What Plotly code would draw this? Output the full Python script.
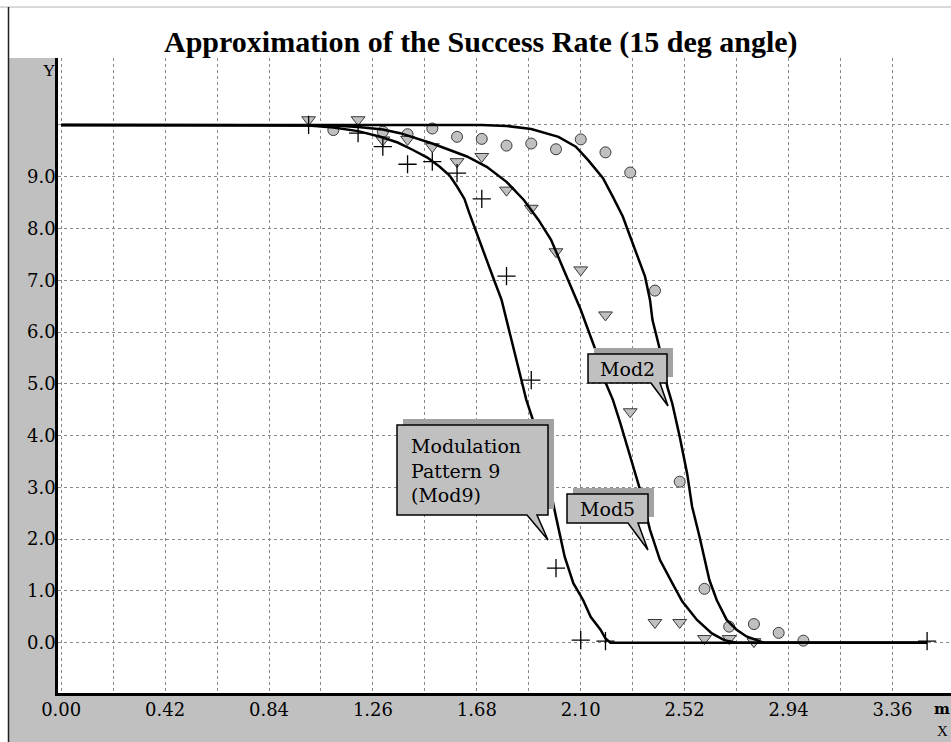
import plotly.graph_objects as go

# ---- measured success rates (markers) ----
x_mod9 = [1.0, 1.2, 1.3, 1.4, 1.5, 1.6, 1.7, 1.8, 1.9, 2.0, 2.1, 2.2, 3.5]
y_mod9 = [10.0, 9.84, 9.58, 9.24, 9.29, 9.07, 8.57, 7.08, 5.07, 1.44, 0.05, 0.03, 0.03]

x_mod5 = [1.0, 1.2, 1.3, 1.4, 1.5, 1.6, 1.7, 1.8, 1.9, 2.0, 2.1, 2.2, 2.3, 2.4, 2.5, 2.6, 2.7, 2.8]
y_mod5 = [10.1, 10.1, 9.71, 9.72, 9.58, 9.29, 9.39, 8.74, 8.39, 7.55, 7.20, 6.33, 4.46, 0.39, 0.39, 0.08, 0.08, 0.02]

x_mod2 = [1.1, 1.3, 1.4, 1.5, 1.6, 1.7, 1.8, 1.9, 2.0, 2.1, 2.2, 2.3, 2.4, 2.5, 2.6, 2.7, 2.8, 2.9, 3.0]
y_mod2 = [9.9, 9.87, 9.82, 9.93, 9.77, 9.73, 9.60, 9.64, 9.53, 9.72, 9.47, 9.08, 6.80, 3.11, 1.04, 0.31, 0.36, 0.19, 0.04]

# ---- approximation curves ----
cx_mod9 = [0.0, 0.90, 1.00, 1.10, 1.20, 1.29, 1.36, 1.42, 1.48, 1.53, 1.57, 1.60, 1.63, 1.65,
           1.67, 1.69, 1.72, 1.75, 1.78, 1.80, 1.82, 1.84, 1.86, 1.88, 1.92, 1.96, 2.00, 2.035,
           2.07, 2.11, 2.14, 2.18, 2.20, 2.22, 3.50]
cy_mod9 = [10.0, 10.0, 9.99, 9.95, 9.88, 9.77, 9.66, 9.52, 9.37, 9.19, 9.02, 8.81, 8.57, 8.29,
           8.04, 7.78, 7.39, 7.00, 6.62, 6.23, 5.85, 5.46, 5.07, 4.69, 4.11, 3.34, 2.43, 1.66,
           1.15, 0.82, 0.50, 0.25, 0.08, 0.0, 0.0]

cx_mod5 = [0.0, 1.00, 1.10, 1.20, 1.30, 1.37, 1.50, 1.64, 1.72, 1.80, 1.87, 1.93, 1.98, 2.02,
           2.06, 2.10, 2.13, 2.16, 2.19, 2.23, 2.26, 2.30, 2.34, 2.38, 2.42, 2.47, 2.51, 2.57,
           2.63, 2.68, 2.73, 3.50]
cy_mod5 = [10.0, 10.0, 9.99, 9.96, 9.91, 9.84, 9.64, 9.39, 9.19, 8.90, 8.55, 8.16, 7.78, 7.33,
           6.88, 6.43, 6.04, 5.65, 5.14, 4.69, 4.24, 3.59, 2.95, 2.18, 1.60, 1.15, 0.80, 0.44,
           0.18, 0.05, 0.0, 0.0]

cx_mod2 = [0.0, 1.70, 1.80, 1.90, 2.01, 2.08, 2.13, 2.19, 2.23, 2.27, 2.29, 2.32, 2.36, 2.38,
           2.39, 2.41, 2.43, 2.45, 2.47, 2.50, 2.53, 2.55, 2.58, 2.62, 2.65, 2.69, 2.73, 2.77,
           2.81, 2.84, 3.50]
cy_mod2 = [10.0, 10.0, 9.98, 9.92, 9.77, 9.58, 9.32, 8.97, 8.61, 8.23, 7.97, 7.58, 7.07, 6.62,
           6.23, 5.85, 5.46, 4.94, 4.62, 3.98, 3.27, 2.63, 2.05, 1.21, 0.82, 0.44, 0.25, 0.12,
           0.05, 0.0, 0.0]

# ---- axis ticks ----
x_tickvals = [round(0.21 * k, 2) for k in range(17)]
x_ticktext = [f"{v:.2f}" if k % 2 == 0 else "" for k, v in enumerate(x_tickvals)]
y_tickvals = list(range(11))
y_ticktext = [f"{v:.1f}" for v in range(10)] + [""]

# ---- figure geometry (pixels) ----
W, H = 951, 742
L, T, R, B = 58, 58, 0, 49
PW, PH = W - L - R, H - T - B
GRAY = "#c0c0c0"
SERIF = "DejaVu Serif"


def px(xp):
    return (xp - L) / PW


def py(yp):
    return (H - B - yp) / PH


fig = go.Figure()

marker_line = dict(color="#3a3a3a", width=1)
fig.add_trace(go.Scatter(x=x_mod2, y=y_mod2, mode="markers", name="Mod2",
                         marker=dict(symbol="circle", size=11, color=GRAY, line=marker_line)))
fig.add_trace(go.Scatter(x=x_mod5, y=y_mod5, mode="markers", name="Mod5",
                         marker=dict(symbol="triangle-down", size=12, color=GRAY, line=marker_line)))
fig.add_trace(go.Scatter(x=x_mod9, y=y_mod9, mode="markers", name="Mod9",
                         marker=dict(symbol="cross-thin", size=13, color="black",
                                     line=dict(color="black", width=1.3))))

for cx, cy, nm in [(cx_mod2, cy_mod2, "Mod2 fit"), (cx_mod5, cy_mod5, "Mod5 fit"),
                   (cx_mod9, cy_mod9, "Mod9 fit")]:
    fig.add_trace(go.Scatter(x=cx, y=cy, mode="lines", name=nm,
                             line=dict(color="black", width=2.5, shape="linear")))

shapes = []
# frame panels around the plot area
shapes.append(dict(type="rect", xref="paper", yref="paper", layer="below",
                   x0=px(8), x1=px(L), y0=py(H), y1=py(T), fillcolor=GRAY, line_width=0))
shapes.append(dict(type="rect", xref="paper", yref="paper", layer="below",
                   x0=px(8), x1=px(W), y0=py(H), y1=py(H - B), fillcolor=GRAY, line_width=0))
shapes.append(dict(type="line", xref="paper", yref="paper", layer="above",
                   x0=px(0), x1=px(W), y0=py(7), y1=py(7), line=dict(color="#b4b4b4", width=1)))
shapes.append(dict(type="line", xref="paper", yref="paper", layer="above",
                   x0=px(8.5), x1=px(8.5), y0=py(7), y1=py(H), line=dict(color="#202020", width=1.5)))


def callout(box, tail, tip):
    x0, y0, x1, y1 = box
    b0, b1 = tail
    tx, ty = tip
    # dithered drop shadow, approximated by a flat gray
    shapes.append(dict(type="rect", xref="paper", yref="paper", layer="above",
                       x0=px(x0 + 6), x1=px(x1 + 6), y0=py(y1 - 6), y1=py(y0 - 6),
                       fillcolor="#a2a2a2", line_width=0))
    pts = [(x0, y0), (x1, y0), (x1, y1), (b1, y1), (tx, ty), (b0, y1), (x0, y1)]
    path = "M " + " L ".join(f"{px(a):.5f},{py(b):.5f}" for a, b in pts) + " Z"
    shapes.append(dict(type="path", xref="paper", yref="paper", layer="above", path=path,
                       fillcolor=GRAY, line=dict(color="black", width=1.5)))


callout((588, 354, 667, 383), (651, 660), (668, 406))
callout((567, 494, 648, 523), (628, 638), (648, 550))
callout((397, 425, 548, 515), (527, 537), (548, 540))

annotations = [
    dict(text="<b>Approximation of the Success Rate (15 deg angle)</b>", xref="paper", yref="paper",
         x=px(481), y=py(42), xanchor="center", yanchor="middle", showarrow=False,
         font=dict(family="Liberation Serif", size=30, color="black")),
    dict(text="Y", xref="paper", yref="paper", x=px(57), y=py(71), xanchor="right", yanchor="middle",
         showarrow=False, font=dict(family="Liberation Serif", size=17, color="black")),
    dict(text="<b>m</b>", xref="paper", yref="paper", x=px(932), y=py(709), xanchor="left",
         yanchor="middle", showarrow=False, font=dict(family=SERIF, size=15, color="black")),
    dict(text="X", xref="paper", yref="paper", x=px(935), y=py(731), xanchor="left",
         yanchor="middle", showarrow=False, font=dict(family="Liberation Serif", size=15, color="black")),
    dict(text="Mod2", xref="paper", yref="paper", x=px(627.5), y=py(368.5), xanchor="center",
         yanchor="middle", showarrow=False, font=dict(family=SERIF, size=19, color="black")),
    dict(text="Mod5", xref="paper", yref="paper", x=px(607.5), y=py(508.5), xanchor="center",
         yanchor="middle", showarrow=False, font=dict(family=SERIF, size=19, color="black")),
    dict(text="Modulation<br>Pattern 9<br>(Mod9)", xref="paper", yref="paper", x=px(409), y=py(470),
         xanchor="left", yanchor="middle", align="left", showarrow=False,
         font=dict(family=SERIF, size=19, color="black")),
]

grid_style = dict(showgrid=True, gridcolor="#8a8a8a", gridwidth=1, griddash="3px,3px")

fig.update_layout(
    width=W, height=H,
    margin=dict(l=L, r=R, t=T, b=B, pad=0),
    paper_bgcolor="white", plot_bgcolor="white",
    showlegend=False,
    shapes=shapes,
    annotations=annotations,
    xaxis=dict(range=[(L - 61.2) / 247.4, (W - 61.2) / 247.4], tickmode="array",
               tickvals=x_tickvals, ticktext=x_ticktext, ticks="", zeroline=False,
               showline=True, linecolor="black", linewidth=3, ticklabelstandoff=-2,
               tickfont=dict(family=SERIF, size=18, color="black"), **grid_style),
    yaxis=dict(range=[(642.7 - (H - B)) / 51.78, (642.7 - T) / 51.78], tickmode="array",
               tickvals=y_tickvals, ticktext=y_ticktext, ticks="", zeroline=False,
               showline=True, linecolor="black", linewidth=2.5, ticklabelstandoff=-4,
               tickfont=dict(family=SERIF, size=18, color="black"), **grid_style),
)

fig.write_html("out.html")
